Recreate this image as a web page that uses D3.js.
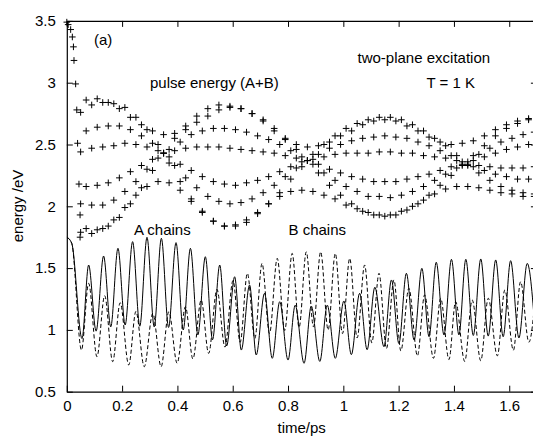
<!DOCTYPE html>
<html>
<head>
<meta charset="utf-8">
<script src="https://cdn.jsdelivr.net/npm/d3@7"></script>
<style>
  body { margin: 0; background: #fff; }
  svg { display: block; font-family: "Liberation Sans", Arial, sans-serif; }
</style>
</head>
<body>
<svg></svg>
<script>
const width = 533;
const height = 438;

// A chains (solid) and B chains (dashed): turning points
const solidT = [0, 0.018, 0.055, 0.079, 0.106, 0.133, 0.159, 0.185, 0.211, 0.238, 0.264, 0.29, 0.316, 0.342, 0.368, 0.395, 0.421, 0.447, 0.474, 0.501, 0.527, 0.553, 0.578, 0.607, 0.631, 0.661, 0.685, 0.715, 0.743, 0.77, 0.8, 0.826, 0.858, 0.884, 0.915, 0.942, 0.971, 1.002, 1.029, 1.059, 1.086, 1.114, 1.147, 1.174, 1.201, 1.228, 1.256, 1.284, 1.31, 1.336, 1.364, 1.391, 1.418, 1.443, 1.47, 1.497, 1.524, 1.551, 1.578, 1.605, 1.635, 1.665, 1.695];
const solidV = [1.75, 1.70, 0.93, 1.525, 0.99, 1.598, 1.025, 1.66, 1.04, 1.714, 1.03, 1.749, 1.025, 1.741, 1.02, 1.706, 1.0, 1.66, 0.96, 1.592, 0.92, 1.525, 0.87, 1.43, 0.837, 1.363, 0.797, 1.296, 0.77, 1.228, 0.756, 1.2, 0.73, 1.193, 0.745, 1.2, 0.77, 1.234, 0.80, 1.296, 0.84, 1.345, 0.864, 1.404, 0.89, 1.458, 0.918, 1.498, 0.945, 1.547, 0.959, 1.571, 0.96, 1.571, 0.955, 1.574, 0.95, 1.566, 0.945, 1.56, 0.935, 1.538, 0.95];

const dashedT = [0, 0.018, 0.053, 0.079, 0.109, 0.137, 0.166, 0.193, 0.224, 0.25, 0.28, 0.311, 0.341, 0.369, 0.399, 0.429, 0.456, 0.486, 0.513, 0.543, 0.572, 0.601, 0.627, 0.653, 0.68, 0.706, 0.733, 0.761, 0.788, 0.815, 0.84, 0.866, 0.892, 0.918, 0.945, 0.971, 0.997, 1.023, 1.05, 1.077, 1.103, 1.129, 1.156, 1.183, 1.208, 1.237, 1.268, 1.294, 1.326, 1.352, 1.382, 1.406, 1.439, 1.466, 1.497, 1.524, 1.557, 1.584, 1.615, 1.641, 1.671, 1.70];
const dashedV = [1.75, 1.70, 0.837, 1.377, 0.783, 1.277, 0.743, 1.22, 0.716, 1.15, 0.702, 1.134, 0.702, 1.147, 0.73, 1.188, 0.765, 1.242, 0.81, 1.328, 0.86, 1.40, 0.90, 1.458, 0.93, 1.538, 0.97, 1.579, 0.995, 1.619, 1.02, 1.632, 1.025, 1.632, 1.0, 1.619, 0.97, 1.579, 0.935, 1.525, 0.895, 1.458, 0.85, 1.404, 0.83, 1.337, 0.79, 1.283, 0.77, 1.256, 0.76, 1.229, 0.745, 1.242, 0.75, 1.256, 0.79, 1.323, 0.835, 1.39, 0.90, 1.44];

// pulse energy (A+B), crosses
const startT = [0, 0.005, 0.014, 0.02, 0.024, 0.026, 0.032, 0.036, 0.039, 0.044, 0.048, 0.048];
const startV = [3.49, 3.47, 3.43, 3.37, 3.29, 3.18, 2.99, 2.78, 2.51, 2.18, 1.93, 1.75];

const timesA = [0.05, 0.09, 0.13, 0.17, 0.21, 0.25, 0.29, 0.33, 0.37, 0.41, 0.45, 0.49, 0.53, 0.57, 0.61, 0.65, 0.69, 0.73, 0.77, 0.81, 0.85, 0.89, 0.93, 0.97, 1.01, 1.05, 1.09, 1.13, 1.17, 1.21, 1.25, 1.29, 1.33, 1.37, 1.41, 1.45, 1.49, 1.53, 1.57, 1.61, 1.65, 1.69];
const pulse1 = [2.76, 2.82, 2.84, 2.83, 2.80, 2.72, 2.62, 2.50, 2.35, 2.20, 2.06, 1.96, 1.88, 1.84, 1.84, 1.87, 1.94, 2.02, 2.11, 2.22, 2.32, 2.42, 2.50, 2.57, 2.63, 2.67, 2.70, 2.72, 2.72, 2.70, 2.66, 2.61, 2.55, 2.49, 2.41, 2.33, 2.27, 2.21, 2.16, 2.13, 2.11, 2.10];
const pulse2 = [2.44, 2.47, 2.48, 2.49, 2.51, 2.50, 2.48, 2.45, 2.40, 2.34, 2.29, 2.24, 2.20, 2.18, 2.17, 2.19, 2.21, 2.24, 2.28, 2.32, 2.36, 2.38, 2.40, 2.42, 2.43, 2.43, 2.43, 2.44, 2.44, 2.43, 2.43, 2.41, 2.40, 2.39, 2.37, 2.34, 2.33, 2.32, 2.31, 2.31, 2.31, 2.32];
const pulse3 = [2.02, 2.01, 2.01, 2.05, 2.12, 2.20, 2.30, 2.39, 2.46, 2.52, 2.58, 2.61, 2.63, 2.63, 2.62, 2.60, 2.57, 2.54, 2.50, 2.45, 2.40, 2.34, 2.27, 2.21, 2.16, 2.12, 2.08, 2.08, 2.07, 2.09, 2.12, 2.16, 2.21, 2.26, 2.31, 2.36, 2.42, 2.47, 2.52, 2.55, 2.58, 2.60];
const pulse4 = [1.79, 1.78, 1.82, 1.89, 1.99, 2.09, 2.16, 2.20, 2.19, 2.13, 2.04, 1.95, 1.88, 1.84, 1.85, 1.89, 1.95, 2.02, 2.08, 2.12, 2.13, 2.12, 2.09, 2.06, 2.01, 1.98, 1.95, 1.93, 1.93, 1.96, 2.00, 2.05, 2.10, 2.14, 2.16, 2.16, 2.15, 2.13, 2.11, 2.10, 2.08, 2.08];

const timesB = [0.07, 0.11, 0.15, 0.19, 0.23, 0.27, 0.31, 0.35, 0.39, 0.43, 0.47, 0.51, 0.55, 0.59, 0.63, 0.67, 0.71, 0.75, 0.79, 0.83, 0.87, 0.91, 0.95, 0.99, 1.03, 1.07, 1.11, 1.15, 1.19, 1.23, 1.27, 1.31, 1.35, 1.39, 1.43, 1.47, 1.51, 1.55, 1.59, 1.63, 1.67];
const pulse5 = [1.82, 1.81, 1.84, 1.91, 2.02, 2.15, 2.29, 2.43, 2.55, 2.65, 2.73, 2.79, 2.82, 2.81, 2.79, 2.75, 2.70, 2.63, 2.55, 2.46, 2.37, 2.27, 2.17, 2.09, 2.02, 1.96, 1.93, 1.92, 1.93, 1.97, 2.02, 2.09, 2.17, 2.25, 2.33, 2.41, 2.49, 2.57, 2.63, 2.67, 2.71];
const pulse6 = [2.61, 2.64, 2.65, 2.65, 2.62, 2.57, 2.51, 2.43, 2.33, 2.23, 2.15, 2.08, 2.04, 2.02, 2.03, 2.06, 2.11, 2.17, 2.24, 2.31, 2.37, 2.42, 2.47, 2.50, 2.53, 2.55, 2.56, 2.57, 2.56, 2.55, 2.52, 2.49, 2.45, 2.41, 2.36, 2.32, 2.29, 2.26, 2.24, 2.22, 2.22];
const pulse7 = [2.16, 2.17, 2.19, 2.23, 2.28, 2.33, 2.38, 2.43, 2.45, 2.47, 2.48, 2.48, 2.48, 2.47, 2.46, 2.45, 2.44, 2.43, 2.41, 2.39, 2.37, 2.34, 2.30, 2.27, 2.24, 2.22, 2.20, 2.20, 2.20, 2.22, 2.24, 2.26, 2.29, 2.32, 2.34, 2.37, 2.40, 2.43, 2.46, 2.48, 2.50];
const pulse8 = [2.86, 2.87, 2.84, 2.79, 2.72, 2.66, 2.61, 2.58, 2.59, 2.62, 2.68, 2.73, 2.78, 2.80, 2.79, 2.75, 2.69, 2.61, 2.54, 2.50, 2.48, 2.49, 2.52, 2.57, 2.61, 2.66, 2.69, 2.70, 2.69, 2.65, 2.61, 2.56, 2.52, 2.50, 2.51, 2.53, 2.57, 2.62, 2.66, 2.69, 2.70];

const xTicks = [0, 0.2, 0.4, 0.6, 0.8, 1, 1.2, 1.4, 1.6];
const yTicks = [0.5, 1, 1.5, 2, 2.5, 3, 3.5];

const padLeft = 66.8, padRight = 536.9, padTop = 20.9, padBottom = 391.7;

let xScale = d3.scaleLinear().domain([0, 1.7]).range([padLeft, padRight]);
let yScale = d3.scaleLinear().domain([0.5, 3.5]).range([padBottom, padTop]);

const svg = d3.select("svg")
    .attr("width", width)
    .attr("height", height);

svg.append("defs").append("clipPath")
    .attr("id", "plot")
  .append("rect")
    .attr("x", padLeft)
    .attr("y", padTop)
    .attr("width", padRight - padLeft)
    .attr("height", padBottom - padTop);

// axes, ticks pointing inward
const fmt = d3.format("~g");

const xAxis = d3.axisBottom(xScale)
  .tickValues(xTicks)
  .tickFormat(fmt)
  .tickSize(-6)
  .tickSizeOuter(0)
  .tickPadding(9);

const xTop = d3.axisTop(xScale)
  .tickValues(xTicks)
  .tickFormat("")
  .tickSize(-6)
  .tickSizeOuter(0);

const yAxis = d3.axisLeft(yScale)
  .tickValues(yTicks)
  .tickFormat(fmt)
  .tickSize(-6)
  .tickSizeOuter(0)
  .tickPadding(11);

const yRight = d3.axisRight(yScale)
  .tickValues(yTicks)
  .tickFormat("")
  .tickSize(-6)
  .tickSizeOuter(0);

svg.append("g")
    .attr("transform", `translate(0, ${padBottom})`)
    .call(xAxis);
svg.append("g")
    .attr("transform", `translate(0, ${padTop})`)
    .call(xTop);
svg.append("g")
    .attr("transform", `translate(${padLeft}, 0)`)
    .call(yAxis);
svg.append("g")
    .attr("transform", `translate(${padRight}, 0)`)
    .call(yRight);

svg.selectAll(".domain").attr("stroke", "#000").attr("stroke-width", 1.2);
svg.selectAll(".tick line").attr("stroke", "#000");
svg.selectAll(".tick text")
    .attr("fill", "#000")
    .style("font-size", "15px")
    .style("font-family", "'Liberation Sans', Arial, sans-serif");

// lines
const line = d3.line()
  .x(d => xScale(d[0]))
  .y(d => yScale(d[1]))
  .curve(d3.curveMonotoneX);

const lines = svg.append("g").attr("clip-path", "url(#plot)");

lines.append("path")
    .datum(d3.zip(dashedT, dashedV))
    .attr("d", line)
    .attr("fill", "none")
    .attr("stroke", "#000")
    .attr("stroke-width", 1)
    .attr("stroke-dasharray", "4,2.5");

lines.append("path")
    .datum(d3.zip(solidT, solidV))
    .attr("d", line)
    .attr("fill", "none")
    .attr("stroke", "#000")
    .attr("stroke-width", 1);

// pulse energy crosses
const pulses = [].concat(
  d3.zip(startT, startV),
  ...[pulse1, pulse2, pulse3, pulse4].map(p => d3.zip(timesA, p)),
  ...[pulse5, pulse6, pulse7, pulse8].map(p => d3.zip(timesB, p))
);

svg.append("g")
  .selectAll("path")
  .data(pulses)
  .enter()
  .append("path")
    .attr("transform", d => `translate(${xScale(d[0])}, ${yScale(d[1])})`)
    .attr("d", "M-3.3,0H3.3M0,-3.3V3.3")
    .attr("stroke", "#000")
    .attr("stroke-width", 1);

// labels
const labels = [
  { text: "(a)", x: 94, y: 45 },
  { text: "pulse energy (A+B)", x: 150, y: 88 },
  { text: "two-plane excitation", x: 357.5, y: 63 },
  { text: "T = 1 K", x: 426.5, y: 88 },
  { text: "A chains", x: 134, y: 235 },
  { text: "B chains", x: 288.5, y: 235 }
];

svg.append("g")
  .selectAll("text")
  .data(labels)
  .enter()
  .append("text")
    .attr("x", d => d.x)
    .attr("y", d => d.y)
    .style("font-size", "15px")
    .text(d => d.text);

svg.append("text")
    .attr("x", 301.7)
    .attr("y", 433)
    .style("text-anchor", "middle")
    .style("font-size", "15px")
    .text("time/ps");

svg.append("text")
    .attr("transform", "rotate(-90)")
    .attr("x", -206)
    .attr("y", 23)
    .style("text-anchor", "middle")
    .style("font-size", "15px")
    .text("energy /eV");
</script>
</body>
</html>
